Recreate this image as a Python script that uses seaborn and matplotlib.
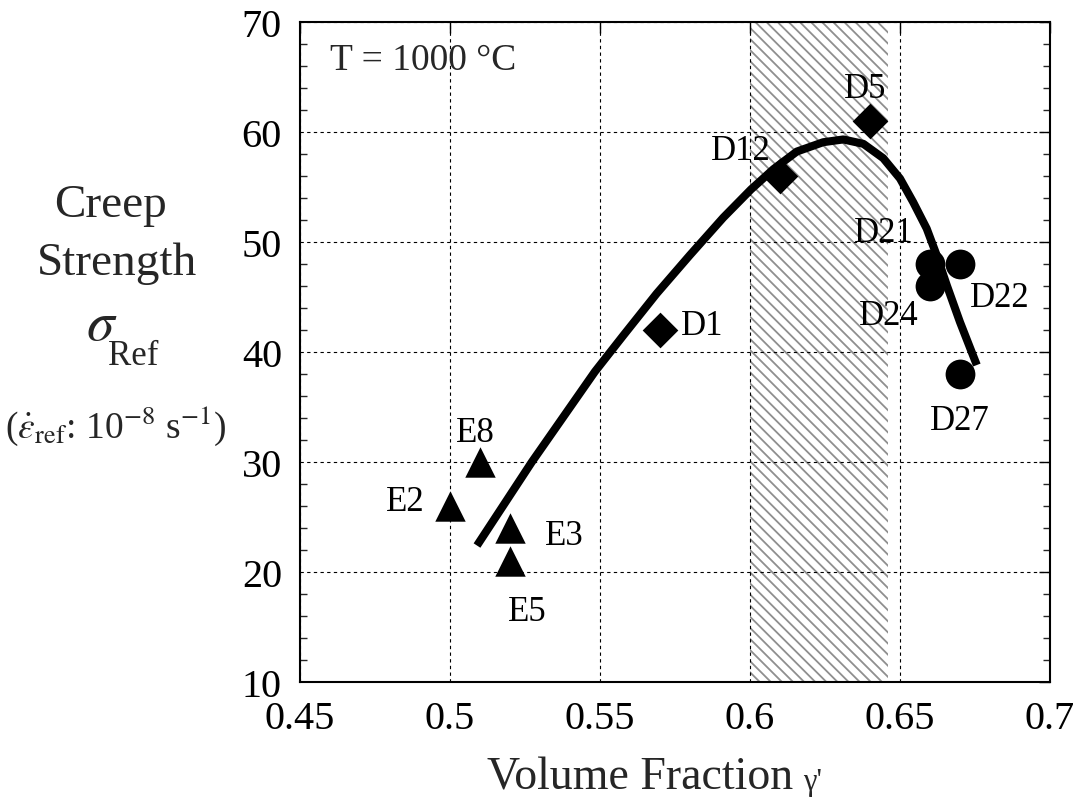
import numpy as np
import pandas as pd
import matplotlib
matplotlib.use("Agg")
import matplotlib.pyplot as plt
import seaborn as sns

# Alloy data: gamma-prime volume fraction vs. reference creep strength (MPa)
alloy_names = ["E2", "E8", "E3", "E5", "D1", "D12", "D5", "D21", "D22", "D24", "D27"]
volume_fraction = [0.50, 0.51, 0.52, 0.52, 0.57, 0.61, 0.64, 0.66, 0.67, 0.66, 0.67]
creep_strength = [26, 30, 24, 21, 42, 56, 61, 48, 48, 46, 38]
alloy_group = ["E", "E", "E", "E", "Da", "Da", "Da", "Db", "Db", "Db", "Db"]

# Label placement (pixels from marker centre to text baseline centre)
label_dx = [-45, -5, 54, 17, 42, -39, -5, -46, 40, -41, 0]
label_dy = [-4, 21, -16, -59, -4, 17, 24, 23, -42, -38, -55]

# Trend curve
curve_x = [0.509, 0.5273, 0.5483, 0.5578, 0.5689, 0.580, 0.5911, 0.6003,
           0.6078, 0.6156, 0.6244, 0.6311, 0.6378, 0.6444, 0.650, 0.6544,
           0.6589, 0.6622, 0.6656, 0.670, 0.6756]
curve_y = [22.4, 30.0, 38.2, 41.5, 45.3, 48.8, 52.2, 54.75,
           56.6, 58.2, 59.05, 59.3, 58.9, 57.6, 55.75, 53.6,
           51.2, 48.8, 46.05, 42.7, 38.8]

# Optimal composition window
band_lo, band_hi = 0.60, 0.646

x_ticks = [0.45, 0.5, 0.55, 0.6, 0.65, 0.7]
x_tick_labels = ["0.45", "0.5", "0.55", "0.6", "0.65", "0.7"]
y_ticks = [10, 20, 30, 40, 50, 60, 70]

sns.set_theme(style="white")
plt.rcParams["font.family"] = ["Liberation Serif", "DejaVu Serif"]
plt.rcParams["mathtext.fontset"] = "stix"
plt.rcParams["hatch.linewidth"] = 1.3
plt.rcParams["hatch.color"] = "#8f8f8f"

fig = plt.figure(figsize=(10.8, 8.03), dpi=100)
ax = fig.add_axes([300 / 1080, 1 - 683 / 803, 750 / 1080, (683 - 22.7) / 803])

ax.axvspan(band_lo, band_hi, facecolor="white", edgecolor="#8f8f8f",
           hatch="\\\\\\", linewidth=0, zorder=0)

df = pd.DataFrame({"x": volume_fraction, "y": creep_strength,
                   "g": alloy_group, "name": alloy_names})
curve = pd.DataFrame({"x": curve_x, "y": curve_y})

sns.lineplot(data=curve, x="x", y="y", sort=False, color="black",
             linewidth=5.8, solid_capstyle="butt", solid_joinstyle="round",
             ax=ax, zorder=3)

sizes = {"E": 480, "Da": 330, "Db": 460}
marks = {"E": "^", "Da": "D", "Db": "o"}
for g in ["E", "Da", "Db"]:
    sub = df[df["g"] == g]
    sns.scatterplot(data=sub, x="x", y="y", marker=marks[g], s=sizes[g],
                    color="black", edgecolor="black", linewidth=0,
                    ax=ax, zorder=4, legend=False)

for name, xv, yv, dx, dy in zip(alloy_names, volume_fraction, creep_strength,
                                label_dx, label_dy):
    ax.annotate(name, (xv, yv), xytext=(dx, dy), textcoords="offset pixels",
                ha="center", va="baseline", fontsize=25, color="black", zorder=5)

ax.text(30 / 750, (683 - 70) / (683 - 22.7), "T = 1000 °C", transform=ax.transAxes,
        fontsize=27, ha="left", va="baseline")

ax.set_xlim(0.45, 0.7)
ax.set_ylim(10, 70)
ax.set_xticks(x_ticks)
ax.set_xticklabels(x_tick_labels)
ax.set_yticks(y_ticks)
ax.set_yticks(np.arange(10, 70, 2), minor=True)
ax.set_xlabel("")
ax.set_ylabel("")

ax.grid(True, which="major", color="black", linestyle=(0, (3, 3)), linewidth=0.8)
ax.set_axisbelow(False)
for sp in ax.spines.values():
    sp.set_color("black")
    sp.set_linewidth(1.5)
    sp.set_zorder(6)

ax.tick_params(axis="both", which="major", direction="in", length=8, width=1,
               top=True, right=True, labelsize=29, colors="black")
ax.tick_params(axis="y", which="major", pad=13)
ax.tick_params(axis="x", which="major", pad=13)
ax.tick_params(axis="y", which="minor", direction="in", length=5, width=1,
               left=True, right=True)

# Axis titles
W, H = 1080, 803
xl = fig.text(487 / W, 1 - 790 / H, "Volume Fraction", fontsize=33,
              ha="left", va="baseline")
fig.canvas.draw()
bb = xl.get_window_extent()
fig.text((bb.x1 + 10) / W, 1 - 790 / H, "γ'", fontsize=22, ha="left", va="baseline")

fig.text(111 / W, 1 - 217 / H, "Creep", fontsize=34, ha="center", va="baseline")
fig.text(117 / W, 1 - 275 / H, "Strength", fontsize=34, ha="center", va="baseline")
fig.text(117 / W, 1 - 340 / H, r"$\sigma$", fontsize=40, ha="right", va="baseline")
fig.text(108 / W, 1 - 365 / H, "Ref", fontsize=25, ha="left", va="baseline")
fig.text(116 / W, 1 - 438 / H,
         r"($\dot{\varepsilon}_{\mathrm{ref}}$: 10$^{\mathrm{-8}}$ s$^{\mathrm{-1}}$)",
         fontsize=27, ha="center", va="baseline")

fig.savefig("out.png", dpi=100, facecolor="white")
